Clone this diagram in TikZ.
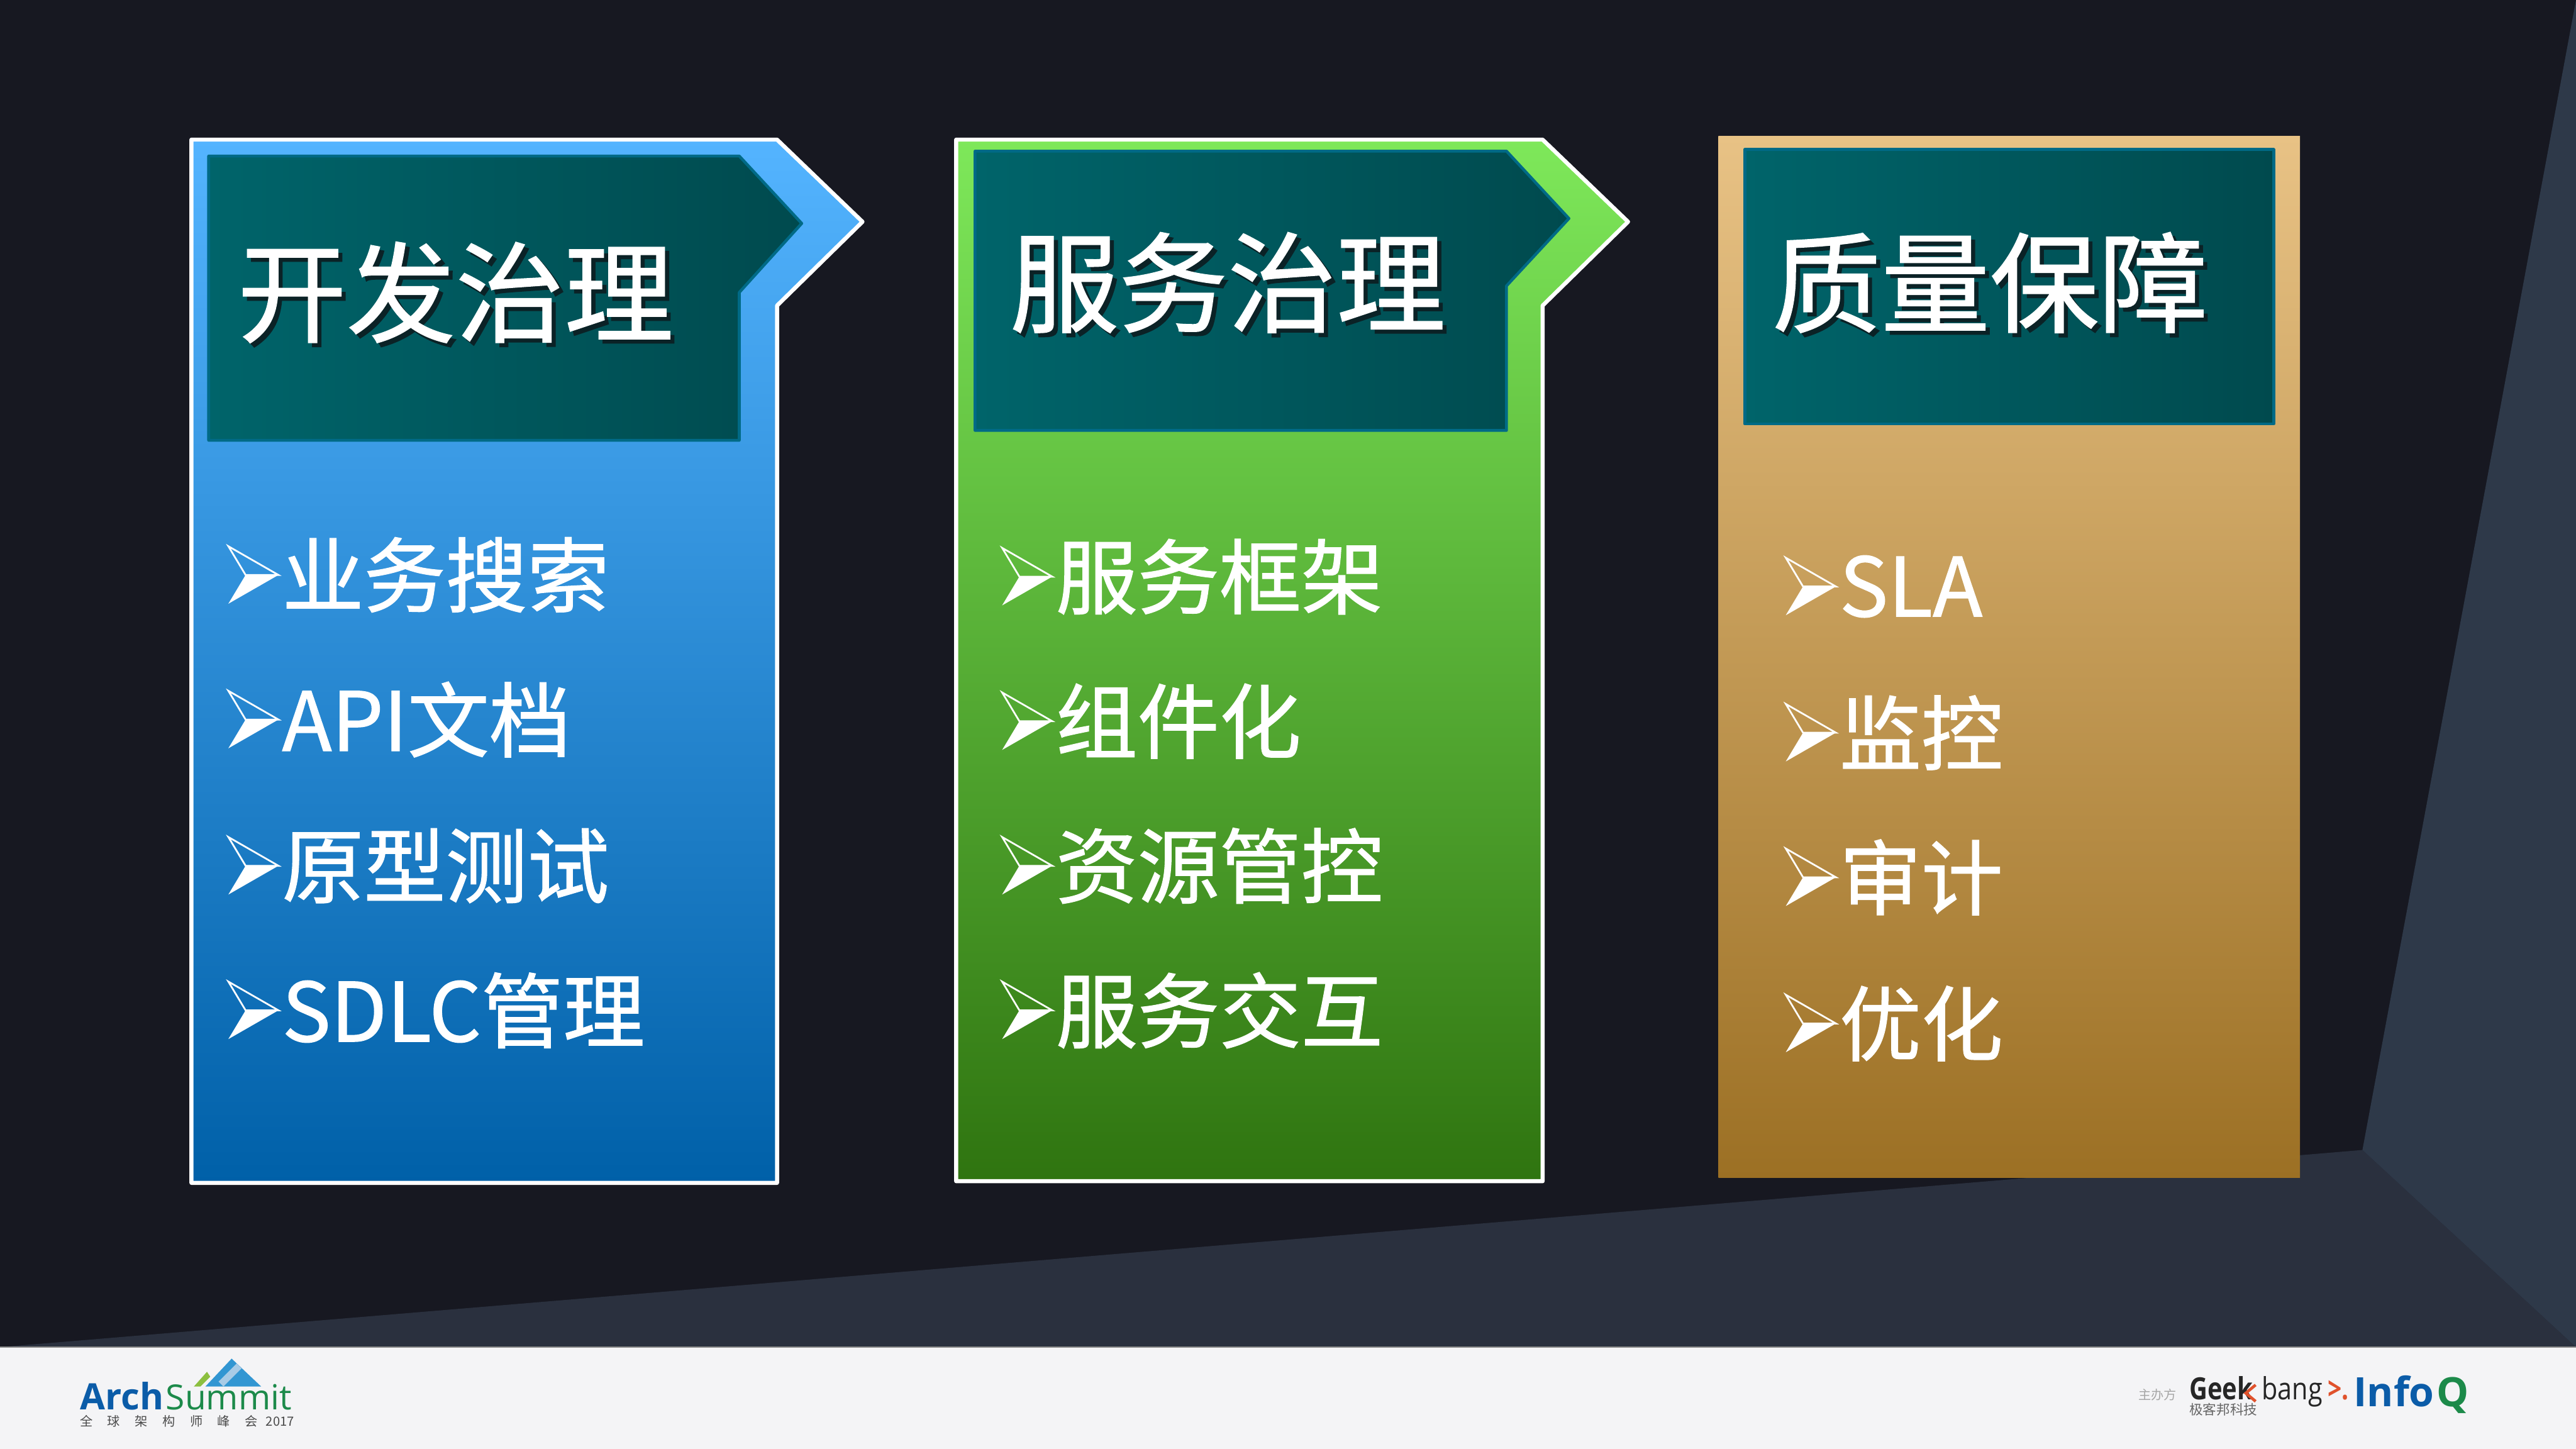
\documentclass[tikz,border=0pt]{standalone}
\usepackage{fontspec}
\setmainfont[FakeBold=1]{Noto Sans CJK SC}
\newfontfamily\plainfont{Noto Sans CJK SC}
\newfontfamily\logofont{Open Sans}
\usetikzlibrary{positioning}
\definecolor{slatebg}{HTML}{171821}
\definecolor{slateband}{HTML}{2A303E}
\definecolor{slatewedge}{HTML}{2E3949}
\definecolor{footbg}{HTML}{F4F4F6}
\definecolor{headleft}{HTML}{00646A}
\definecolor{headright}{HTML}{004A4E}
\definecolor{headline}{HTML}{006A86}
\definecolor{textshadow}{HTML}{0B2226}
\definecolor{archblue}{HTML}{0B5CA8}
\definecolor{archgreen}{HTML}{1C8A4A}
\definecolor{archlime}{HTML}{8CBF3F}
\definecolor{archpeak}{HTML}{3296D2}
\definecolor{archpale}{HTML}{A8CBE6}
\definecolor{bangred}{HTML}{E0522C}
\definecolor{bluetop}{HTML}{54B4FF}
\definecolor{bluebot}{HTML}{0060A8}
\definecolor{greentop}{HTML}{7EE85A}
\definecolor{greenbot}{HTML}{2F7410}
\definecolor{sandtop}{HTML}{E8C285}
\definecolor{sandbot}{HTML}{9C7024}
\tikzset{
	panel/.style={line width=0.7pt, draw=white, line join=round},
	head/.style={draw=headline, line width=0.5pt, line join=round, left color=headleft, right color=headright},
	heading/.style={text=white, font=\fontsize{18.85}{20}\selectfont, inner sep=0, anchor=west},
	item/.style={text=white, font=\fontsize{14.15}{16}\selectfont, inner sep=0, anchor=west},
	tiny/.style={inner sep=0, anchor=west},
	logotext/.style={inner sep=0, anchor=base west},
}
% heading and list text with a small dark copy behind
\newcommand{\headlabel}[3]{
	\node [heading, text=textshadow] at (#1+2.5,#2+2.5) {#3};
	\node [heading] (head#3) at (#1,#2) {#3};
}
\newcommand{\listlabel}[3]{
	\fill [white] (#1-23.5,#2) -- (#1-3.5,#2) -- (#1-34,#2+17.5) -- cycle;
	\draw [white, line width=0.3pt, line join=miter] (#1-34,#2-17.5) -- (#1-3.5,#2) -- (#1-23.5,#2) -- cycle;
	\node [item] (item#3) at (#1-2,#2) {#3};
}
\begin{document}
\begin{tikzpicture}[x=0.01cm,y=-0.01cm]
	\useasboundingbox (0,0) rectangle (1568,882);
	% background
	\fill [slatebg] (0,0) rectangle (1568,820);
	\fill [slateband] (0,820) -- (1438,700) -- (1568,820) -- cycle;
	\fill [slatewedge] (1438,700) -- (1568,0) -- (1568,820) -- cycle;
	\fill [footbg] (0,820) rectangle (1568,882);
	\draw [black!45, line width=0.3pt] (0,820) -- (1568,820);
	% panels
	\draw [panel, top color=bluetop, bottom color=bluebot]
		(116.5,85) -- (473,85) -- (525,135) -- (473,186) -- (473,720) -- (116.5,720) -- cycle;
	\draw [panel, top color=greentop, bottom color=greenbot]
		(582,85) -- (939,85) -- (991,135) -- (939,186) -- (939,719) -- (582,719) -- cycle;
	\fill [top color=sandtop, bottom color=sandbot] (1046,83) rectangle (1400,717);
	% heads
	\draw [head] (127,95) -- (450,95) -- (488,136) -- (450,178) -- (450,268) -- (127,268) -- cycle;
	\draw [head] (593.5,92) -- (917,92) -- (955,133) -- (917,174) -- (917,262) -- (593.5,262) -- cycle;
	\draw [head] (1062,91) rectangle (1384,258);
	% headings
	\headlabel{144}{178}{开发治理}
	\headlabel{614}{172}{服务治理}
	\headlabel{1078}{172}{质量保障}
	% lists
	\listlabel{173}{350}{业务搜索}
	\listlabel{173}{438}{API文档}
	\listlabel{173}{527}{原型测试}
	\listlabel{173}{615}{SDLC管理}
	\listlabel{644}{351}{服务框架}
	\listlabel{644}{439}{组件化}
	\listlabel{644}{527}{资源管控}
	\listlabel{644}{615}{服务交互}
	\listlabel{1121}{357}{SLA}
	\listlabel{1121}{446}{监控}
	\listlabel{1121}{534}{审计}
	\listlabel{1121}{623}{优化}
	% logos
	\fill [archlime] (118,844) -- (126,835) -- (128,838) -- (122,844) -- cycle;
	\fill [archpeak] (125,844) -- (141,827) -- (159,844) -- cycle;
	\fill [archpale] (133,841) -- (144,830) -- (147,833) -- (136,844) -- cycle;
	\node [logotext, font=\logofont\bfseries\fontsize{6.3}{7}\selectfont, text=archblue] (arch) at (48,858) {Arch};
	\node [logotext, right=0pt of arch.base east, anchor=base west, font=\logofont\fontsize{6}{7}\selectfont, text=archgreen] (summit) {Summit};
	\node [tiny, font=\plainfont\fontsize{2.2}{3}\selectfont, text=black!70] (archsub) at (48,865) {全\hspace{0.09cm}球\hspace{0.09cm}架\hspace{0.09cm}构\hspace{0.09cm}师\hspace{0.09cm}峰\hspace{0.09cm}会\hspace{0.05cm}2017};
	\node [tiny, font=\plainfont\fontsize{2.2}{3}\selectfont, text=black!35] (host) at (1301,849) {主办方};
	\node [logotext, font=\logofont\bfseries\fontsize{5.3}{6}\selectfont, text=black!85] (geek) at (1332,852) {\scalebox{0.82}[1]{Geek}};
	\draw [bangred, line width=0.5pt] (1373,843) -- (1367,848) -- (1373,853);
	\node [logotext, font=\logofont\fontsize{5.3}{6}\selectfont, text=black!85] (bang) at (1376,852) {\scalebox{0.85}[1]{bang}};
	\node [logotext, right=0.5pt of bang.base east, anchor=base west, font=\logofont\bfseries\fontsize{5.3}{6}\selectfont, text=bangred] (bangtip) {\scalebox{0.8}[1]{>.}};
	\node [tiny, font=\plainfont\fontsize{2.35}{3}\selectfont, text=black!60] (geeksub) at (1332,858) {极客邦科技};
	\node [logotext, font=\logofont\bfseries\fontsize{7}{8}\selectfont, text=archblue] (info) at (1432,856) {Info};
	\node [logotext, right=0pt of info.base east, anchor=base west, font=\logofont\bfseries\fontsize{7}{8}\selectfont, text=archgreen] (infoq) {Q};
\end{tikzpicture}
\end{document}
